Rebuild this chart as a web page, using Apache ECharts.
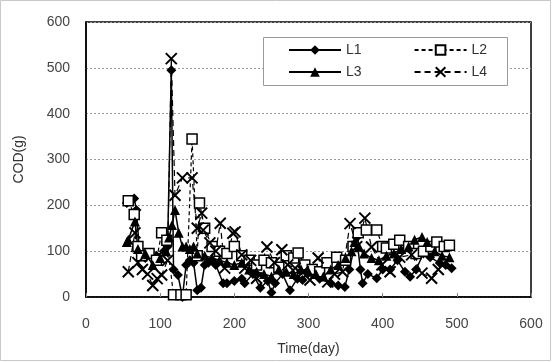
<!DOCTYPE html>
<html>
<head>
<meta charset="utf-8">
<script src="https://cdn.jsdelivr.net/npm/echarts@6/dist/echarts.min.js"></script>
<style>
  html, body { margin: 0; padding: 0; background: #fff; }
  #chart { width: 552px; height: 362px; }
</style>
</head>
<body>
<div id="chart"></div>
<script>
// [day, COD] pairs
var l1 = [[55,205],[60,210],[65,215],[68,190],[72,100],[80,85],[95,90],[105,100],[110,110],[115,495],[118,60],[124,48],[130,0],[135,70],[140,80],[145,75],[150,15],[155,20],[160,70],[165,75],[170,80],[175,70],[185,30],[190,30],[200,35],[210,40],[214,30],[225,50],[235,20],[245,35],[250,10],[255,30],[265,50],[275,15],[285,40],[292,37],[300,55],[315,40],[330,30],[340,25],[349,22],[355,60],[362,110],[365,130],[370,60],[373,30],[380,50],[392,41],[400,60],[410,60],[420,80],[430,55],[437,44],[445,60],[455,95],[464,87],[477,74],[485,70],[493,63]];
var l2 = [[57,210],[65,180],[70,110],[75,90],[85,95],[95,80],[102,140],[109,124],[118,5],[128,5],[135,5],[143,345],[150,90],[153,205],[160,150],[170,110],[180,100],[190,95],[200,110],[210,90],[220,80],[230,70],[240,80],[250,75],[260,65],[270,90],[280,85],[286,96],[295,70],[305,60],[315,55],[325,75],[338,87],[350,80],[360,110],[367,140],[378,146],[392,146],[400,110],[405,107],[415,115],[423,124],[435,110],[445,95],[455,100],[465,110],[473,120],[483,110],[490,113]];
var l3 = [[55,120],[57,125],[66,165],[70,105],[80,95],[90,70],[100,85],[108,100],[112,130],[116,157],[120,190],[125,140],[130,110],[135,110],[140,105],[145,110],[150,95],[160,90],[170,85],[180,80],[190,75],[200,70],[210,75],[220,60],[230,55],[240,50],[250,45],[260,60],[270,55],[280,50],[290,60],[300,55],[310,50],[320,45],[330,60],[340,70],[350,85],[358,100],[362,120],[368,110],[375,95],[385,85],[395,80],[405,90],[415,95],[425,105],[435,110],[443,125],[453,131],[460,120],[470,100],[480,90],[490,87]];
var l4 = [[57,55],[66,140],[70,75],[76,60],[83,50],[90,25],[96,40],[102,48],[110,80],[115,520],[120,222],[130,260],[143,260],[150,150],[156,183],[158,146],[167,118],[175,100],[181,161],[187,63],[198,139],[201,142],[210,92],[214,63],[222,80],[230,41],[244,109],[254,75],[264,103],[272,70],[282,63],[293,55],[302,37],[313,85],[326,33],[335,50],[346,55],[356,160],[365,110],[376,172],[385,109],[399,70],[410,55],[423,87],[439,92],[453,52],[466,41],[475,60]];
var legendRow1 = ['L1', 'L2'];
var legendRow2 = ['L3', 'L4'];

var font = 'Liberation Sans';
var cross = 'path://M0,0L10,10M10,0L0,10';

function legendRow(names, top) {
	return {
		left: 288, top: top,
		padding: 0,
		itemWidth: 52, itemHeight: 12,
		itemGap: 52,
		textStyle: { fontFamily: font, fontSize: 14, color: '#333' },
		data: names
	};
}

echarts.init(document.getElementById('chart')).setOption({
	animation: false,
	textStyle: { fontFamily: font },
	graphic: [{
		type: 'rect',
		shape: { x: 0.5, y: 0.5, width: 550, height: 360 },
		style: { fill: 'none', stroke: '#c8c8c8', lineWidth: 1 }
	}, {
		type: 'rect',
		z: 2,
		shape: { x: 263.5, y: 37.5, width: 244, height: 48 },
		style: { fill: '#fff', stroke: '#999', lineWidth: 1 }
	}],
	grid: {
		left: 86, right: 21, top: 22, bottom: 65,
		show: true, borderColor: '#000', borderWidth: 1.5
	},
	legend: [legendRow(legendRow1, 43), legendRow(legendRow2, 65)],
	xAxis: {
		type: 'value', min: 0, max: 600, interval: 100,
		name: 'Time(day)', nameLocation: 'middle', nameGap: 45,
		nameTextStyle: { fontFamily: font, fontSize: 14, color: '#333' },
		axisLine: { lineStyle: { color: '#000', width: 1.5 } },
		axisTick: { inside: true, length: 4, lineStyle: { color: '#888' } },
		axisLabel: { fontFamily: font, fontSize: 14, color: '#444', margin: 20 },
		splitLine: { show: false }
	},
	yAxis: {
		type: 'value', min: 0, max: 600, interval: 100,
		name: 'COD(g)', nameLocation: 'middle', nameGap: 60,
		nameTextStyle: { fontFamily: font, fontSize: 14, color: '#333' },
		axisLine: { show: true, lineStyle: { color: '#000', width: 1.5 } },
		axisTick: { show: false },
		axisLabel: { fontFamily: font, fontSize: 14, color: '#444', margin: 16 },
		splitLine: { lineStyle: { color: '#999', type: [2, 2], width: 1 } }
	},
	series: [{
		name: 'L1', type: 'line', data: l1,
		symbol: 'diamond', symbolSize: 10,
		lineStyle: { color: '#000', width: 1.5 },
		itemStyle: { color: '#000' }
	}, {
		name: 'L2', type: 'line', data: l2,
		symbol: 'rect', symbolSize: 10,
		lineStyle: { color: '#000', width: 1.2, type: [4, 3] },
		itemStyle: { color: '#fff', borderColor: '#000', borderWidth: 1.5 }
	}, {
		name: 'L3', type: 'line', data: l3,
		symbol: 'triangle', symbolSize: 10,
		lineStyle: { color: '#000', width: 1.5 },
		itemStyle: { color: '#000' }
	}, {
		name: 'L4', type: 'line', data: l4,
		symbol: cross, symbolSize: 11,
		lineStyle: { color: '#000', width: 1.2, type: [6, 4] },
		itemStyle: { color: '#000', borderColor: '#000', borderWidth: 2 }
	}]
});
</script>
</body>
</html>
